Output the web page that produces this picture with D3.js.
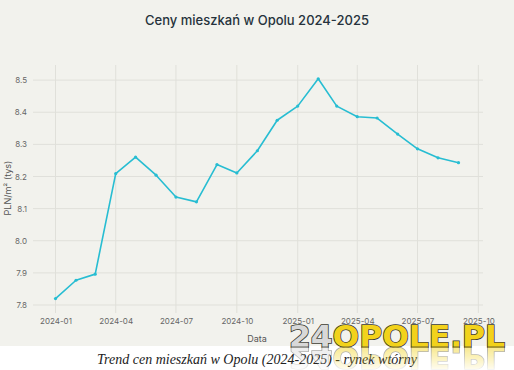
<!DOCTYPE html>
<html>
<head>
<meta charset="utf-8">
<script src="https://cdn.jsdelivr.net/npm/d3@7"></script>
<style>
  body { margin: 0; background: #fff; }
  svg { display: block; }
</style>
</head>
<body>
<svg id="chart" width="514" height="370"></svg>
<script>
// Data (monthly)
const months = ["2024-01","2024-02","2024-03","2024-04","2024-05","2024-06","2024-07",
  "2024-08","2024-09","2024-10","2024-11","2024-12","2025-01","2025-02","2025-03",
  "2025-04","2025-05","2025-06","2025-07","2025-08","2025-09"];
const prices = [7.82, 7.877, 7.896, 8.209, 8.26, 8.204, 8.136, 8.121, 8.237, 8.211, 8.28,
  8.375, 8.419, 8.504, 8.419, 8.386, 8.382, 8.332, 8.286, 8.258, 8.243];
const yTicks = [7.8, 7.9, 8.0, 8.1, 8.2, 8.3, 8.4, 8.5];
const xTicks = ["2024-01","2024-04","2024-07","2024-10","2025-01","2025-04","2025-07","2025-10"];

const parse = d3.timeParse("%Y-%m");
const data = months.map((m, i) => ({ date: parse(m), value: prices[i] }));

const svg = d3.select("#chart");
const font = "Inter, 'Liberation Sans', sans-serif";

// chart background
svg.append("rect").attr("x", 0).attr("y", 0).attr("width", 514).attr("height", 346)
  .attr("fill", "#f2f2ed");

const plotLeft = 33, plotRight = 483, plotTop = 65, plotBottom = 313;

const x = d3.scaleTime()
  .domain([new Date(2023, 10, 28), new Date(2025, 9, 8)])
  .range([plotLeft, plotRight]);
const y = d3.scaleLinear()
  .domain([7.775, 8.547])
  .range([plotBottom, plotTop]);

// grid
svg.append("g").selectAll("line").data(yTicks).enter().append("line")
  .attr("x1", plotLeft).attr("x2", plotRight)
  .attr("y1", d => y(d)).attr("y2", d => y(d))
  .attr("stroke", "#e0e0da").attr("stroke-width", 1);
svg.append("g").selectAll("line").data(xTicks).enter().append("line")
  .attr("x1", d => x(parse(d))).attr("x2", d => x(parse(d)))
  .attr("y1", plotTop).attr("y2", plotBottom)
  .attr("stroke", "#e0e0da").attr("stroke-width", 1);

// axes (labels only)
const yAxis = svg.append("g")
  .attr("transform", `translate(${plotLeft},0)`)
  .call(d3.axisLeft(y).tickValues(yTicks).tickFormat(d3.format(".1f")).tickSize(0).tickPadding(6));
const xAxis = svg.append("g")
  .attr("transform", `translate(0,${plotBottom})`)
  .call(d3.axisBottom(x).tickValues(xTicks.map(parse)).tickFormat(d3.timeFormat("%Y-%m")).tickSize(0).tickPadding(5));
[yAxis, xAxis].forEach(a => {
  a.select(".domain").remove();
  a.selectAll("text").attr("fill", "#666").style("font-family", font).style("font-size", "8px");
});

// line
svg.append("path")
  .datum(data)
  .attr("fill", "none")
  .attr("stroke", "#27bdd2")
  .attr("stroke-width", 1.6)
  .attr("stroke-linejoin", "round")
  .attr("d", d3.line().x(d => x(d.date)).y(d => y(d.value)));

svg.append("g").selectAll("circle").data(data).enter().append("circle")
  .attr("cx", d => x(d.date)).attr("cy", d => y(d.value)).attr("r", 1.6)
  .attr("fill", "#27bdd2");

// titles
svg.append("text").attr("x", 257).attr("y", 25).attr("text-anchor", "middle")
  .style("font-family", font).style("font-size", "13px").style("font-weight", 500).attr("fill", "#26323c")
  .text("Ceny mieszkań w Opolu 2024-2025");
svg.append("text").attr("x", 257).attr("y", 342).attr("text-anchor", "middle")
  .style("font-family", font).style("font-size", "9px").attr("fill", "#555")
  .text("Data");
svg.append("text").attr("transform", "translate(11,188) rotate(-90)").attr("text-anchor", "middle")
  .style("font-family", font).style("font-size", "9px").attr("fill", "#555")
  .text("PLN/m² (tys)");

// caption
svg.append("text").attr("x", 257).attr("y", 364).attr("text-anchor", "middle")
  .style("font-family", "'Liberation Serif', 'DejaVu Serif', serif").style("font-style", "italic")
  .style("font-size", "14px").attr("fill", "#222")
  .text("Trend cen mieszkań w Opolu (2024-2025) - rynek wtórny");

// watermark logo
const defs = svg.append("defs");
const grad = defs.append("linearGradient").attr("id", "fade").attr("x1", 0).attr("y1", 0).attr("x2", 0).attr("y2", 1);
grad.append("stop").attr("offset", 0).attr("stop-color", "#fff").attr("stop-opacity", 0.85);
grad.append("stop").attr("offset", 1).attr("stop-color", "#fff").attr("stop-opacity", 0.1);
defs.append("mask").attr("id", "fadeMask").append("rect")
  .attr("x", 280).attr("y", 346).attr("width", 234).attr("height", 24).attr("fill", "url(#fade)");

function logo(g) {
  const t = g.append("text").attr("x", 289).attr("y", 347)
    .attr("textLength", 216).attr("lengthAdjust", "spacingAndGlyphs")
    .style("font-family", "'DejaVu Sans', sans-serif").style("font-weight", "bold")
    .style("font-size", "31px")
    .attr("stroke", "#3a3a30").attr("stroke-width", 1.6).attr("paint-order", "stroke");
  t.append("tspan").attr("fill", "#d8d8d8").text("24");
  t.append("tspan").attr("fill", "#f2d21b").text("OPOLE.PL");
}
logo(svg.append("g"));
logo(svg.append("g").attr("mask", "url(#fadeMask)")
  .append("g").attr("transform", "translate(0,694) scale(1,-1)").attr("opacity", 0.6));
</script>
</body>
</html>
